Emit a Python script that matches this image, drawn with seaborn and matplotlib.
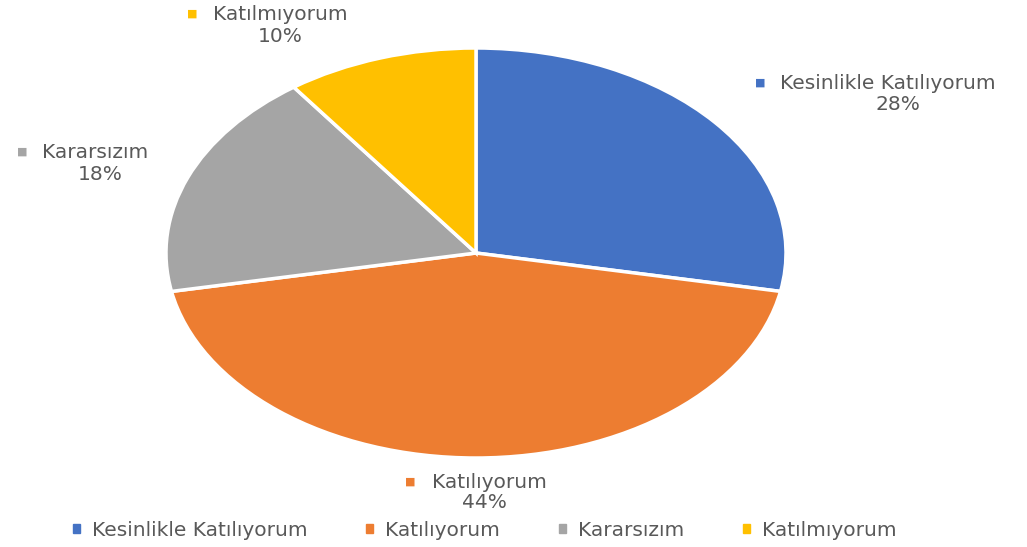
import matplotlib
matplotlib.use("Agg")
import matplotlib.pyplot as plt
import seaborn as sns
from matplotlib.patches import Patch

categories = ["Kesinlikle Katılıyorum", "Katılıyorum", "Kararsızım", "Katılmıyorum"]
values = [28, 44, 18, 10]
colors = ["#4472C4", "#ED7D31", "#A5A5A5", "#FFC000"]

sns.set_theme(style="white")
plt.rcParams['font.family'] = ['DejaVu Sans']
txt_color = "#595959"
FS = 14.5

fig = plt.figure(figsize=(10.27, 5.47), dpi=100)
W, H = 1027, 547
cx, cy, rx, ry = 476, 253, 310, 205
ax = fig.add_axes([(cx - rx) / W, (H - cy - ry) / H, 2 * rx / W, 2 * ry / H])
wedges, _ = ax.pie(values, colors=colors, startangle=90, counterclock=False,
                   wedgeprops=dict(edgecolor="white", linewidth=2.5))
ax.set_aspect("auto")
ax.set_xlim(-1, 1)
ax.set_ylim(-1, 1)
ax.axis("off")

# (square x, text left x, name y, percent center x, percent y) in pixels
label_pos = {
    "Kesinlikle Katılıyorum": (760, 780, 83, 898, 105),
    "Katılıyorum": (410, 432, 482, 484, 503),
    "Kararsızım": (22, 42, 152, 100, 175),
    "Katılmıyorum": (192, 213, 14, 280, 36),
}
for cat, val, col in zip(categories, values, colors):
    sx, tx, y1, px, y2 = label_pos[cat]
    fig.text(sx / W, 1 - y1 / H, "■", ha="center", va="center", fontsize=8, color=col)
    fig.text(tx / W, 1 - y1 / H, cat, ha="left", va="center", fontsize=FS, color=txt_color)
    fig.text(px / W, 1 - y2 / H, f"{val}%", ha="center", va="center",
             fontsize=FS, color=txt_color)

handles = [Patch(facecolor=c, edgecolor=c) for c in colors]
leg = fig.legend(handles, categories, loc="center", bbox_to_anchor=(0.472, 1 - 530 / H),
                 ncol=4, frameon=False, fontsize=FS, handlelength=0.35, handleheight=0.35,
                 handletextpad=0.6, columnspacing=2.9, labelcolor=txt_color)

fig.savefig("out.png", dpi=100)
